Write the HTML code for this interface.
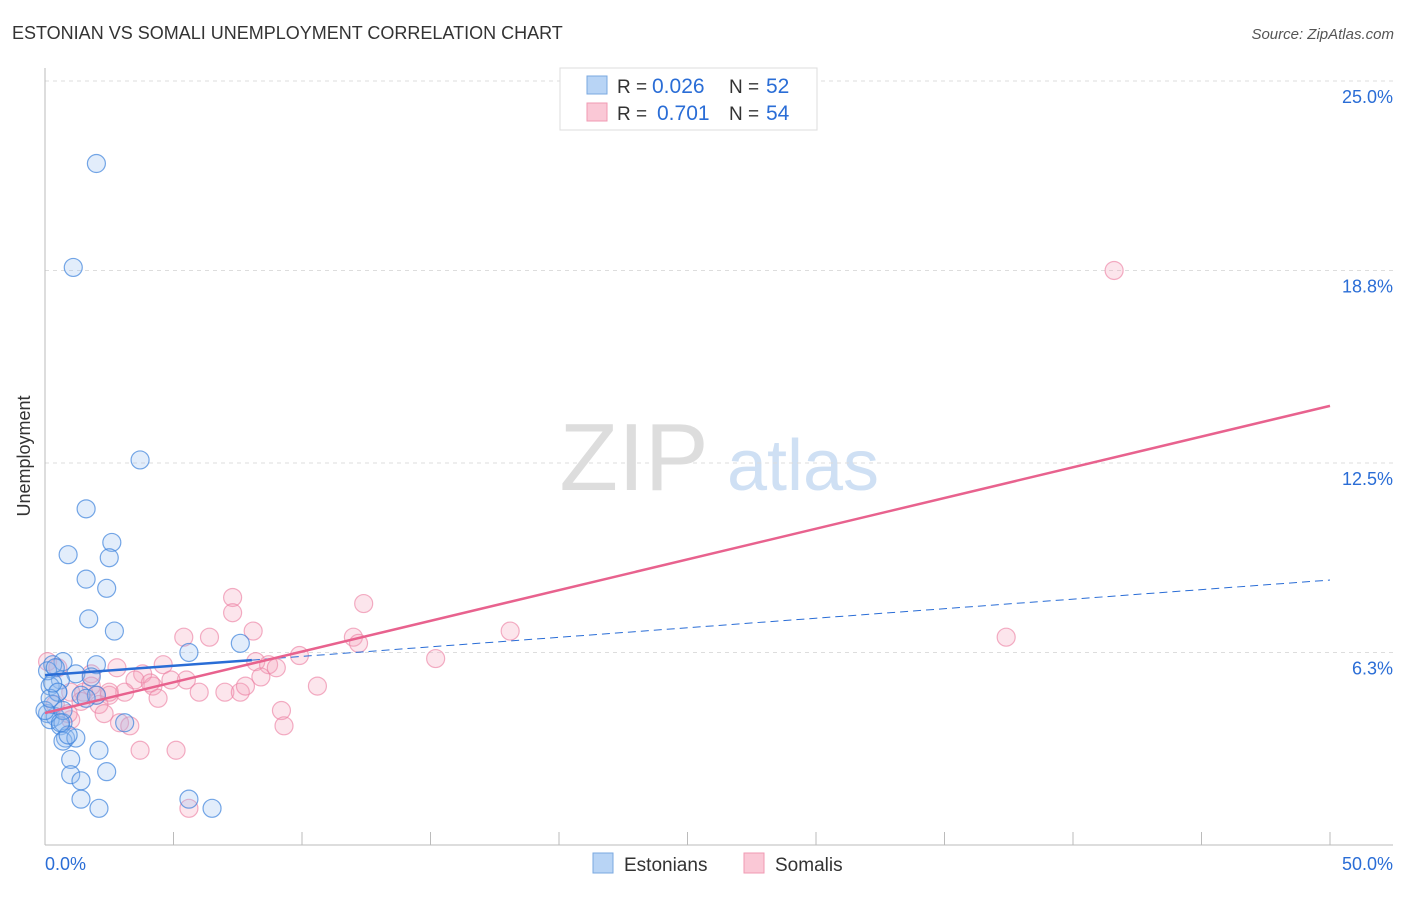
<!DOCTYPE html>
<html><head><meta charset="utf-8"><style>
body{margin:0;background:#fff;font-family:"Liberation Sans",sans-serif}
svg text{font-family:"Liberation Sans",sans-serif}
</style></head><body>
<svg id="c" width="1406" height="892" xmlns="http://www.w3.org/2000/svg">
<text x="12" y="39" font-size="18" fill="#333">ESTONIAN VS SOMALI UNEMPLOYMENT CORRELATION CHART</text>
<text x="1394" y="39" font-size="15" fill="#555" font-style="italic" text-anchor="end">Source: ZipAtlas.com</text>
<text x="30" y="456" font-size="18" fill="#333" transform="rotate(-90 30 456)" text-anchor="middle">Unemployment</text>
<g><text x="634" y="490" font-size="96" fill="#ddd" font-family="Liberation Serif" text-anchor="middle">ZIP</text><text x="803" y="490" font-size="72" fill="#cfe0f4" text-anchor="middle">atlas</text></g>
<g id="grid"></g><g id="axes"></g><g id="pts"></g><g id="trend"></g>
<g>
<rect x="560" y="68" width="257" height="62" fill="#fff" stroke="#ddd"/>
<rect x="587" y="76" width="20" height="18" fill="#b8d4f5" stroke="#7aa8e0"/>
<rect x="587" y="103" width="20" height="18" fill="#fac8d6" stroke="#f09ab3"/>
<text x="617" y="93" font-size="19" fill="#333">R =</text>
<text x="652" y="93" font-size="21" fill="#2a6dd6">0.026</text>
<text x="729" y="93" font-size="19" fill="#333">N =</text>
<text x="766" y="93" font-size="21" fill="#2a6dd6">52</text>
<text x="617" y="120" font-size="19" fill="#333">R =</text>
<text x="657" y="120" font-size="21" fill="#2a6dd6">0.701</text>
<text x="729" y="120" font-size="19" fill="#333">N =</text>
<text x="766" y="120" font-size="21" fill="#2a6dd6">54</text>
</g>
<g>
<rect x="593" y="853" width="20" height="20" fill="#b8d4f5" stroke="#7aa8e0"/>
<text x="624" y="871" font-size="19" fill="#333">Estonians</text>
<rect x="744" y="853" width="20" height="20" fill="#fac8d6" stroke="#f09ab3"/>
<text x="775" y="871" font-size="19" fill="#333">Somalis</text>
</g>
</svg>
<script>
const yTicks=[25.0,18.8,12.5,6.3];
const yTickLabels=["25.0%","18.8%","12.5%","6.3%"];
const xTicks=[0,5,10,15,20,25,30,35,40,45,50];
const estonianX=[2.0,1.1,3.7,1.6,0.9,2.6,1.6,2.4,1.7,2.7,7.6,5.6,0.7,2.0,0.3,1.2,0.6,1.8,0.2,0.5,1.4,2.0,0.1,0.4,0.2,0.6,0.7,3.1,0.8,0.7,1.2,2.1,1.0,1.0,1.4,2.4,1.4,2.1,5.6,6.5,0.5,0.1,0.3,0.7,0.0,0.9,0.2,0.4,1.6,0.6,2.5,0.3];
const estonianY=[22.3,18.9,12.6,11.0,9.5,9.9,8.7,8.4,7.4,7.0,6.6,6.3,6.0,5.9,5.9,5.6,5.4,5.5,5.2,5.0,4.9,4.9,4.3,4.2,4.1,3.9,4.0,4.0,3.5,3.4,3.5,3.1,2.8,2.3,2.1,2.4,1.5,1.2,1.5,1.2,5.0,5.7,4.6,4.4,4.4,3.6,4.8,5.8,4.8,4.0,9.4,5.3];
const somaliX=[41.6,7.3,7.3,12.4,8.1,6.4,5.4,12.0,12.2,18.1,37.4,15.2,9.9,8.2,8.7,9.0,4.6,3.8,2.8,1.8,8.4,10.6,5.5,4.9,3.5,4.2,4.1,3.1,6.0,7.0,7.6,7.8,2.5,2.0,1.5,4.4,2.1,2.3,1.0,2.9,3.3,9.2,9.3,3.7,5.1,5.6,0.1,0.5,1.0,1.4,0.9,2.5,1.8,0.4];
const somaliY=[18.8,8.1,7.6,7.9,7.0,6.8,6.8,6.8,6.6,7.0,6.8,6.1,6.2,6.0,5.9,5.8,5.9,5.6,5.8,5.6,5.5,5.2,5.4,5.4,5.4,5.2,5.3,5.0,5.0,5.0,5.0,5.2,4.9,4.9,5.0,4.8,4.6,4.3,4.1,4.0,3.9,4.4,3.9,3.1,3.1,1.2,6.0,5.8,5.0,4.7,4.3,5.0,5.2,4.6];
const blueTrendX=[0,8.05,50];
const blueTrendY=[5.56,6.05,8.67];
const pinkTrendX=[0,50];
const pinkTrendY=[4.32,14.37];
const X=v=>45+v*25.7, Y=v=>845-v*30.56;
const NS="http://www.w3.org/2000/svg";
function mk(t,a,p){const e=document.createElementNS(NS,t);for(const k in a)e.setAttribute(k,a[k]);p.appendChild(e);return e;}
const grid=document.getElementById('grid'),axes=document.getElementById('axes'),pts=document.getElementById('pts'),tr=document.getElementById('trend');
yTicks.forEach((t,i)=>{
 const l=mk('line',{x1:45,x2:1393,y1:Y(t),y2:Y(t),stroke:'#ddd','stroke-dasharray':'4 4'},grid);
 
 
 const tx=mk('text',{x:1393,y:Y(t)+22,'font-size':18,fill:'#2a6dd6','text-anchor':'end'},grid);
 tx.textContent=yTickLabels[i];
 
 
});
let a=mk('line',{x1:45,x2:45,y1:68,y2:845,stroke:'#bbb'},axes);


a=mk('line',{x1:45,x2:1393,y1:845,y2:845,stroke:'#bbb'},axes);


xTicks.forEach(t=>{const l=mk('line',{x1:X(t),x2:X(t),y1:832,y2:845,stroke:'#bbb'},axes);
 
 });
let t0=mk('text',{x:45,y:870,'font-size':18,fill:'#2a6dd6'},axes);t0.textContent='0.0%';


let t1=mk('text',{x:1393,y:870,'font-size':18,fill:'#2a6dd6','text-anchor':'end'},axes);t1.textContent='50.0%';


somaliX.forEach((v,i)=>{const c=mk('circle',{cx:X(v),cy:Y(somaliY[i]),r:9,fill:'rgba(246,160,188,0.28)',stroke:'rgba(236,130,165,0.65)','stroke-width':1.2},pts);
 
 });
estonianX.forEach((v,i)=>{const c=mk('circle',{cx:X(v),cy:Y(estonianY[i]),r:9,fill:'rgba(150,190,240,0.28)',stroke:'rgba(60,130,220,0.7)','stroke-width':1.2},pts);
 
 });
let l=mk('line',{x1:X(blueTrendX[0]),y1:Y(blueTrendY[0]),x2:X(blueTrendX[1]),y2:Y(blueTrendY[1]),stroke:'#2a6dd6','stroke-width':2.5},tr);


l=mk('line',{x1:X(blueTrendX[1]),y1:Y(blueTrendY[1]),x2:X(blueTrendX[2]),y2:Y(blueTrendY[2]),stroke:'#2a6dd6','stroke-width':1,'stroke-dasharray':'8 5'},tr);


l=mk('line',{x1:X(pinkTrendX[0]),y1:Y(pinkTrendY[0]),x2:X(pinkTrendX[1]),y2:Y(pinkTrendY[1]),stroke:'#e8628e','stroke-width':2.5},tr);


</script>
</body></html>
